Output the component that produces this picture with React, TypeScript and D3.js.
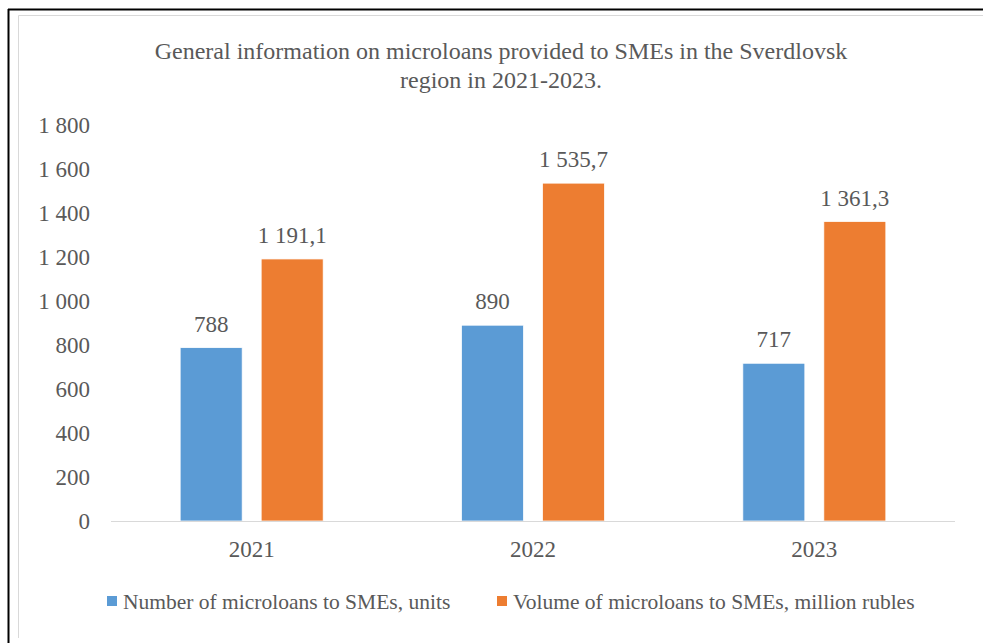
import React from "react";
import * as d3 from "d3";

const categories = ["2021", "2022", "2023"];
const seriesNames = [
  "Number of microloans to SMEs, units",
  "Volume of microloans to SMEs, million rubles",
];
const countValues = [788, 890, 717];
const volumeValues = [1191.1, 1535.7, 1361.3];
const yTicks = [0, 200, 400, 600, 800, 1000, 1200, 1400, 1600, 1800];
const titleLines = [
  "General information on microloans provided to SMEs in the Sverdlovsk",
  "region in 2021-2023.",
];
const colors = ["#5B9BD5", "#ED7D31"];

const locale = d3.formatLocale({
  decimal: ",",
  thousands: " ",
  grouping: [3],
  currency: ["", ""],
});
const fmtInt = locale.format(",d");
const fmtDec = locale.format(",.1f");

export default function App() {
  const W = 983;
  const H = 643;
  const left = 111;
  const right = 955;
  const top = 125;
  const bottom = 521;
  const font = "Liberation Serif, Times New Roman, serif";
  const textColor = "#595959";
  const fs = 23;

  const x = d3.scaleBand<string>().domain(categories).range([left, right]).paddingInner(0).paddingOuter(0);
  const y = d3.scaleLinear().domain([0, 1800]).range([bottom, top]);
  const barW = 62;
  const gap = 19;

  const series = [
    { values: countValues, fmt: fmtInt },
    { values: volumeValues, fmt: fmtDec },
  ];
  const legendX = [107, 497];

  return (
    <svg width={W} height={H} style={{ position: "absolute", left: 0, top: 0, background: "#fff" }}>
      <rect x={0} y={0} width={W} height={H} fill="#fff" />
      <line x1={8} y1={9.5} x2={W} y2={9.5} stroke="#000" strokeWidth={2} />
      <line x1={8.5} y1={9} x2={8.5} y2={H} stroke="#000" strokeWidth={2} />
      <line x1={18.5} y1={15.5} x2={W} y2={15.5} stroke="#D9D9D9" strokeWidth={1} />
      <line x1={18.5} y1={15.5} x2={18.5} y2={638} stroke="#D9D9D9" strokeWidth={1} />

      {titleLines.map((t, i) => (
        <text key={i} x={501} y={59 + i * 29} textAnchor="middle" fontSize={24} fontFamily={font} fill={textColor}>
          {t}
        </text>
      ))}

      {yTicks.map((t) => (
        <text key={t} x={90} y={y(t) + 8} textAnchor="end" fontSize={fs} fontFamily={font} fill={textColor}>
          {fmtInt(t)}
        </text>
      ))}

      {categories.map((c, ci) => {
        const cx = (x(c) as number) + x.bandwidth() / 2;
        return (
          <g key={c}>
            {series.map((s, si) => {
              const bx = si === 0 ? cx - gap / 2 - barW : cx + gap / 2;
              const v = s.values[ci];
              return (
                <g key={si}>
                  <rect
                    x={bx}
                    y={y(v)}
                    width={barW}
                    height={y(0) - y(v)}
                    fill={colors[si]}
                    stroke="#fff"
                    strokeWidth={0.75}
                  />
                  <text x={bx + barW / 2} y={y(v) - 16} textAnchor="middle" fontSize={fs} fontFamily={font} fill={textColor}>
                    {s.fmt(v)}
                  </text>
                </g>
              );
            })}
            <text x={cx} y={557} textAnchor="middle" fontSize={fs} fontFamily={font} fill={textColor}>
              {c}
            </text>
          </g>
        );
      })}

      <line x1={left} y1={bottom + 0.5} x2={right} y2={bottom + 0.5} stroke="#D9D9D9" strokeWidth={1} />

      {seriesNames.map((n, i) => {
        const lx = legendX[i];
        return (
          <g key={n}>
            <rect x={lx} y={596} width={10} height={10} fill={colors[i]} />
            <text x={lx + 16} y={609} fontSize={21.5} fontFamily={font} fill={textColor}>
              {n}
            </text>
          </g>
        );
      })}
    </svg>
  );
}
